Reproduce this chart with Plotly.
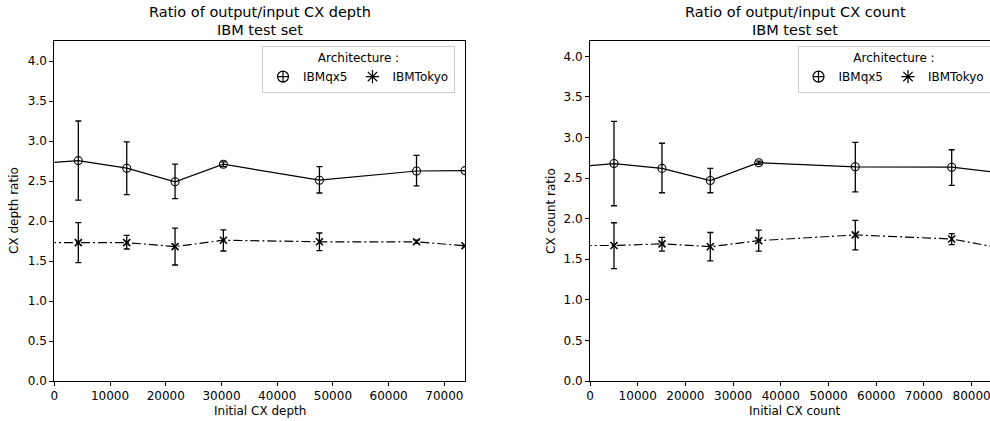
import plotly.graph_objects as go

# ---------------- data ----------------
depth_x = [-4370, 4310, 13000, 21670, 30340, 47580, 65000, 73700]
qx5_depth = [2.71, 2.755, 2.66, 2.49, 2.71, 2.51, 2.625, 2.63]
qx5_depth_hi = [None, 3.25, 2.99, 2.71, 2.74, 2.68, 2.82, None]
qx5_depth_lo = [None, 2.26, 2.33, 2.28, 2.68, 2.35, 2.44, None]
tokyo_depth = [1.73, 1.73, 1.73, 1.68, 1.76, 1.74, 1.74, 1.69]
tokyo_depth_hi = [None, 1.98, 1.82, 1.91, 1.89, 1.85, 1.76, None]
tokyo_depth_lo = [None, 1.48, 1.65, 1.45, 1.625, 1.63, 1.72, None]

count_x = [-5090, 5030, 15090, 25220, 35370, 55620, 75830, 85950]
qx5_count = [2.63, 2.68, 2.62, 2.47, 2.69, 2.64, 2.635, 2.565]
qx5_count_hi = [None, 3.20, 2.93, 2.62, 2.71, 2.94, 2.85, None]
qx5_count_lo = [None, 2.16, 2.32, 2.32, 2.67, 2.33, 2.41, None]
tokyo_count = [1.67, 1.67, 1.69, 1.655, 1.73, 1.80, 1.75, 1.64]
tokyo_count_hi = [None, 1.95, 1.77, 1.83, 1.86, 1.98, 1.815, None]
tokyo_count_lo = [None, 1.385, 1.60, 1.48, 1.60, 1.615, 1.68, None]

architectures = ["IBMqx5", "IBMTokyo"]
titles = [["Ratio of output/input CX depth", "IBM test set"],
          ["Ratio of output/input CX count", "IBM test set"]]
xlabels = ["Initial CX depth", "Initial CX count"]
ylabels = ["CX depth ratio", "CX count ratio"]
xticks_depth = [0, 10000, 20000, 30000, 40000, 50000, 60000, 70000]
xticks_count = [0, 10000, 20000, 30000, 40000, 50000, 60000, 70000, 80000]
yticks = [0.0, 0.5, 1.0, 1.5, 2.0, 2.5, 3.0, 3.5, 4.0]

# ---------------- layout helpers ----------------
W, H = 990, 421
FONT = "DejaVu Sans"
px = lambda v: v / W
py = lambda v: 1 - v / H


def err(vals, hi, lo):
    plus = [None if h is None else h - v for v, h in zip(vals, hi)]
    minus = [None if l is None else v - l for v, l in zip(vals, lo)]
    return dict(type="data", symmetric=False, array=plus, arrayminus=minus,
                color="black", thickness=1.3, width=3)


fig = go.Figure()

series = [
    ("x", "y", depth_x, qx5_depth, qx5_depth_hi, qx5_depth_lo, "IBMqx5"),
    ("x", "y", depth_x, tokyo_depth, tokyo_depth_hi, tokyo_depth_lo, "IBMTokyo"),
    ("x2", "y2", count_x, qx5_count, qx5_count_hi, qx5_count_lo, "IBMqx5"),
    ("x2", "y2", count_x, tokyo_count, tokyo_count_hi, tokyo_count_lo, "IBMTokyo"),
]
for xa, ya, xs, ys, hi, lo, name in series:
    if name == "IBMqx5":
        marker = dict(symbol="circle-open", size=8, color="black", line=dict(width=1.1, color="black"))
        line = dict(color="black", width=1.2)
    else:
        marker = dict(symbol="x-thin-open", size=7, color="black", line=dict(width=1.6, color="black"))
        line = dict(color="black", width=1.2, dash="9px,3px,2px,3px")
    fig.add_trace(go.Scatter(x=xs, y=ys, xaxis=xa, yaxis=ya, mode="lines+markers",
                             marker=marker, line=line, error_y=err(ys, hi, lo),
                             showlegend=False, cliponaxis=True))

# legend entries
for lg in ["legend", "legend2"]:
    for name in architectures:
        if name == "IBMqx5":
            mk = dict(symbol="circle-cross-open", size=11, color="black", line=dict(width=1.2, color="black"))
        else:
            mk = dict(symbol="asterisk-open", size=11, color="black", line=dict(width=1.2, color="black"))
        fig.add_trace(go.Scatter(x=[None], y=[None], mode="markers", name=name, marker=mk,
                                 legend=lg, showlegend=True,
                                 xaxis="x" if lg == "legend" else "x2",
                                 yaxis="y" if lg == "legend" else "y2"))

axis_common = dict(showgrid=False, zeroline=False, showline=True, linecolor="black", linewidth=1,
                   ticks="outside", ticklen=4, tickwidth=1, tickcolor="black", automargin=False,
                   ticklabeloverflow="allow",
                   tickfont=dict(family=FONT, size=12, color="black"))

ydom = [py(381), py(41)]
leg_common = dict(orientation="h", xanchor="left", yanchor="top",
                  bgcolor="rgba(255,255,255,0.8)", bordercolor="#cccccc", borderwidth=1,
                  font=dict(family=FONT, size=12, color="black"),
                  title=dict(text="Architecture :", side="top center",
                             font=dict(family=FONT, size=12, color="black")))
fig.update_layout(
    template="none",
    width=W, height=H, margin=dict(l=0, r=0, t=0, b=0, autoexpand=False),
    paper_bgcolor="white", plot_bgcolor="white",
    font=dict(family=FONT, color="black"),
    xaxis=dict(domain=[px(54.3), px(465)], range=[0, 73700], tickvals=xticks_depth,
               ticktext=[str(v) for v in xticks_depth], mirror=True, anchor="y", **axis_common),
    yaxis=dict(domain=ydom, range=[0, 4.25], tickvals=yticks,
               ticktext=["%.1f" % v for v in yticks], mirror=True, anchor="x", **axis_common),
    xaxis2=dict(domain=[px(590), 1.0], range=[0, 83860], tickvals=xticks_count,
                ticktext=[str(v) for v in xticks_count], mirror=True, anchor="y2", **axis_common),
    yaxis2=dict(domain=ydom, range=[0, 4.19], tickvals=yticks,
                ticktext=["%.1f" % v for v in yticks], mirror=False, anchor="x2", **axis_common),
    legend=dict(x=px(262), y=py(45.5), **leg_common),
    legend2=dict(x=px(797.5), y=py(45.5), **leg_common),
)

ann = []
centers = [259.7, 795]
for i in range(2):
    ann.append(dict(text=titles[i][0], x=px(centers[i]), y=py(12.5), xref="paper", yref="paper",
                    xanchor="center", yanchor="middle", showarrow=False,
                    font=dict(family=FONT, size=14.5, color="black")))
    ann.append(dict(text=titles[i][1], x=px(centers[i]), y=py(29.5), xref="paper", yref="paper",
                    xanchor="center", yanchor="middle", showarrow=False,
                    font=dict(family=FONT, size=14.5, color="black")))
    ann.append(dict(text=xlabels[i], x=px(centers[i]), y=py(410.5), xref="paper", yref="paper",
                    xanchor="center", yanchor="middle", showarrow=False,
                    font=dict(family=FONT, size=12, color="black")))
ann.append(dict(text=ylabels[0], x=px(14), y=py(211), xref="paper", yref="paper", textangle=-90,
                xanchor="center", yanchor="middle", showarrow=False,
                font=dict(family=FONT, size=12, color="black")))
ann.append(dict(text=ylabels[1], x=px(551), y=py(211), xref="paper", yref="paper", textangle=-90,
                xanchor="center", yanchor="middle", showarrow=False,
                font=dict(family=FONT, size=12, color="black")))
fig.update_layout(annotations=ann)

# remove the browser's default 8px body margin so the figure sits at the page origin
fig.write_html("out.html", config={"displayModeBar": False},
               post_script="document.body.style.margin='0px';")
